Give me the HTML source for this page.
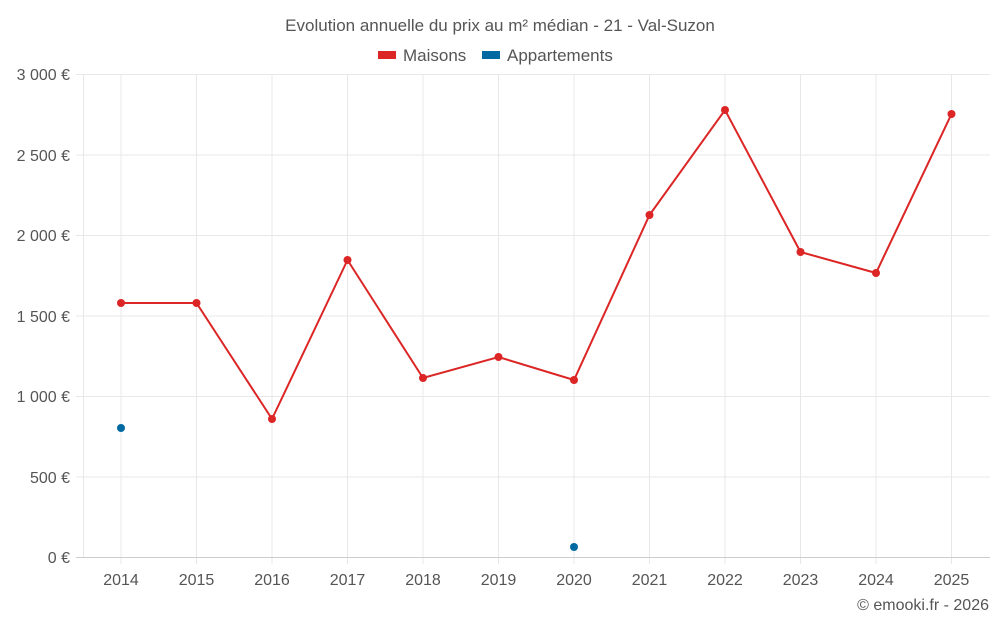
<!DOCTYPE html>
<html><head><meta charset="utf-8"><style>body{margin:0;background:#fff}svg{display:block}text{font-family:"Liberation Sans",sans-serif;fill:#555}</style></head><body>
<svg width="1000" height="625" viewBox="0 0 1000 625">
<text x="500" y="31" font-size="17" text-anchor="middle">Evolution annuelle du prix au m² médian - 21 - Val-Suzon</text>
<rect x="378" y="51" width="18" height="8" fill="#dc2626"/>
<text x="403" y="61" font-size="17">Maisons</text>
<rect x="482" y="51" width="18" height="8" fill="#0369a1"/>
<text x="507" y="61" font-size="17">Appartements</text>
<g stroke="#e8e8e8" stroke-width="1">
<line x1="76" x2="990" y1="74.5" y2="74.5"/><line x1="76" x2="990" y1="155" y2="155"/><line x1="76" x2="990" y1="235.5" y2="235.5"/><line x1="76" x2="990" y1="316" y2="316"/><line x1="76" x2="990" y1="396.5" y2="396.5"/><line x1="76" x2="990" y1="477" y2="477"/>
<line x1="83.5" x2="83.5" y1="74" y2="557"/>
<line x1="121" x2="121" y1="74" y2="564"/><line x1="196.5" x2="196.5" y1="74" y2="564"/><line x1="272" x2="272" y1="74" y2="564"/><line x1="347.5" x2="347.5" y1="74" y2="564"/><line x1="423" x2="423" y1="74" y2="564"/><line x1="498.5" x2="498.5" y1="74" y2="564"/><line x1="574" x2="574" y1="74" y2="564"/><line x1="649.5" x2="649.5" y1="74" y2="564"/><line x1="725" x2="725" y1="74" y2="564"/><line x1="800.5" x2="800.5" y1="74" y2="564"/><line x1="876" x2="876" y1="74" y2="564"/><line x1="951.5" x2="951.5" y1="74" y2="564"/>
</g>
<line x1="76" x2="990" y1="557.5" y2="557.5" stroke="#ccc"/>
<g font-size="16" text-anchor="end">
<text x="70" y="80">3 000 €</text><text x="70" y="161">2 500 €</text><text x="70" y="241">2 000 €</text><text x="70" y="322">1 500 €</text><text x="70" y="402">1 000 €</text><text x="70" y="483">500 €</text><text x="70" y="563">0 €</text>
</g>
<g font-size="16" text-anchor="middle">
<text x="121" y="585">2014</text><text x="196.5" y="585">2015</text><text x="272" y="585">2016</text><text x="347.5" y="585">2017</text><text x="423" y="585">2018</text><text x="498.5" y="585">2019</text><text x="574" y="585">2020</text><text x="649.5" y="585">2021</text><text x="725" y="585">2022</text><text x="800.5" y="585">2023</text><text x="876" y="585">2024</text><text x="951.5" y="585">2025</text>
</g>
<polyline fill="none" stroke="#dc2626" stroke-width="2" points="121,303 196.5,303 272,419 347.5,260 423,378 498.5,357 574,380 649.5,215 725,110 800.5,252 876,273 951.5,114"/>
<g fill="#dc2626">
<circle cx="121" cy="303" r="4"/><circle cx="196.5" cy="303" r="4"/><circle cx="272" cy="419" r="4"/><circle cx="347.5" cy="260" r="4"/><circle cx="423" cy="378" r="4"/><circle cx="498.5" cy="357" r="4"/><circle cx="574" cy="380" r="4"/><circle cx="649.5" cy="215" r="4"/><circle cx="725" cy="110" r="4"/><circle cx="800.5" cy="252" r="4"/><circle cx="876" cy="273" r="4"/><circle cx="951.5" cy="114" r="4"/>
</g>
<g fill="#0369a1"><circle cx="121" cy="428" r="4"/><circle cx="574" cy="547" r="4"/></g>
<text x="989" y="610" font-size="16" text-anchor="end">© emooki.fr - 2026</text>
</svg>
</body></html>
